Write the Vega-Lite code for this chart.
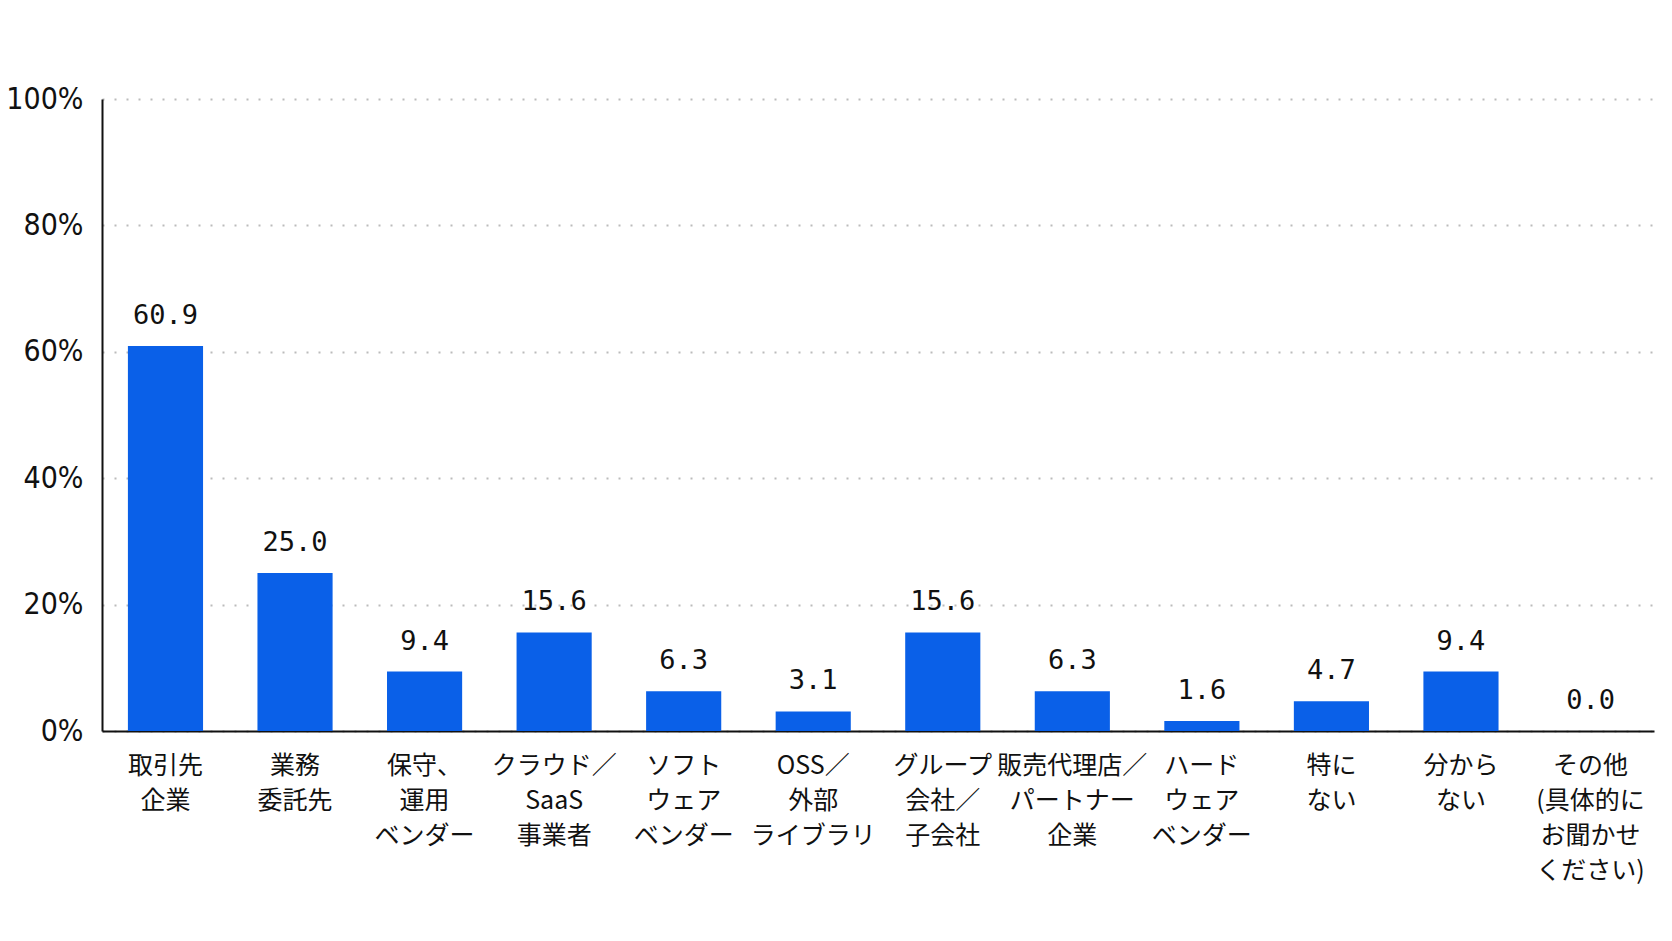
{
  "$schema": "https://vega.github.io/schema/vega-lite/v6.json",
  "autosize": {"type": "none"},
  "padding": {"left": 102, "top": 99, "right": 18, "bottom": 210},
  "width": 1552,
  "height": 632,
  "background": "white",
  "data": {
    "values": [
      {"category": "取引先|企業", "value": 60.9},
      {"category": "業務|委託先", "value": 25.0},
      {"category": "保守、|運用|ベンダー", "value": 9.4},
      {"category": "クラウド／|SaaS|事業者", "value": 15.6},
      {"category": "ソフト|ウェア|ベンダー", "value": 6.3},
      {"category": "OSS／|外部|ライブラリ", "value": 3.1},
      {"category": "グループ|会社／|子会社", "value": 15.6},
      {"category": "販売代理店／|パートナー|企業", "value": 6.3},
      {"category": "ハード|ウェア|ベンダー", "value": 1.6},
      {"category": "特に|ない", "value": 4.7},
      {"category": "分から|ない", "value": 9.4},
      {"category": "その他|(具体的に|お聞かせ|ください)", "value": 0.0}
    ]
  },
  "encoding": {
    "x": {
      "field": "category",
      "type": "nominal",
      "sort": null,
      "title": null,
      "scale": {"paddingInner": 0.42, "paddingOuter": 0.2},
      "axis": {
        "labelAngle": 0,
        "labelExpr": "split(datum.label, '|')",
        "labelFont": "Noto Sans CJK JP",
        "labelFontSize": 25,
        "labelColor": "#111",
        "labelLineHeight": 35,
        "labelBaseline": "top",
        "labelPadding": 22,
        "ticks": false,
        "domainColor": "#111",
        "domainWidth": 2,
        "labelLimit": 300
      }
    },
    "y": {
      "field": "value",
      "type": "quantitative",
      "title": null,
      "scale": {"domain": [0, 100]},
      "axis": {
        "values": [0, 20, 40, 60, 80, 100],
        "labelExpr": "datum.value + '%'",
        "labelFont": "DejaVu Sans Condensed",
        "labelFontSize": 30,
        "labelColor": "#111",
        "labelPadding": 19,
        "ticks": false,
        "domainColor": "#111",
        "domainWidth": 2,
        "gridColor": "#bbbbbb",
        "gridDash": [2, 10],
        "gridWidth": 2
      }
    }
  },
  "layer": [
    {
      "mark": {"type": "bar", "color": "#0a60e8"}
    },
    {
      "mark": {
        "type": "text",
        "baseline": "alphabetic",
        "dy": -22,
        "font": "DejaVu Sans Mono",
        "fontSize": 27,
        "color": "#111"
      },
      "encoding": {
        "text": {"field": "value", "type": "quantitative", "format": ".1f"}
      }
    }
  ],
  "config": {
    "view": {"stroke": null}
  }
}
